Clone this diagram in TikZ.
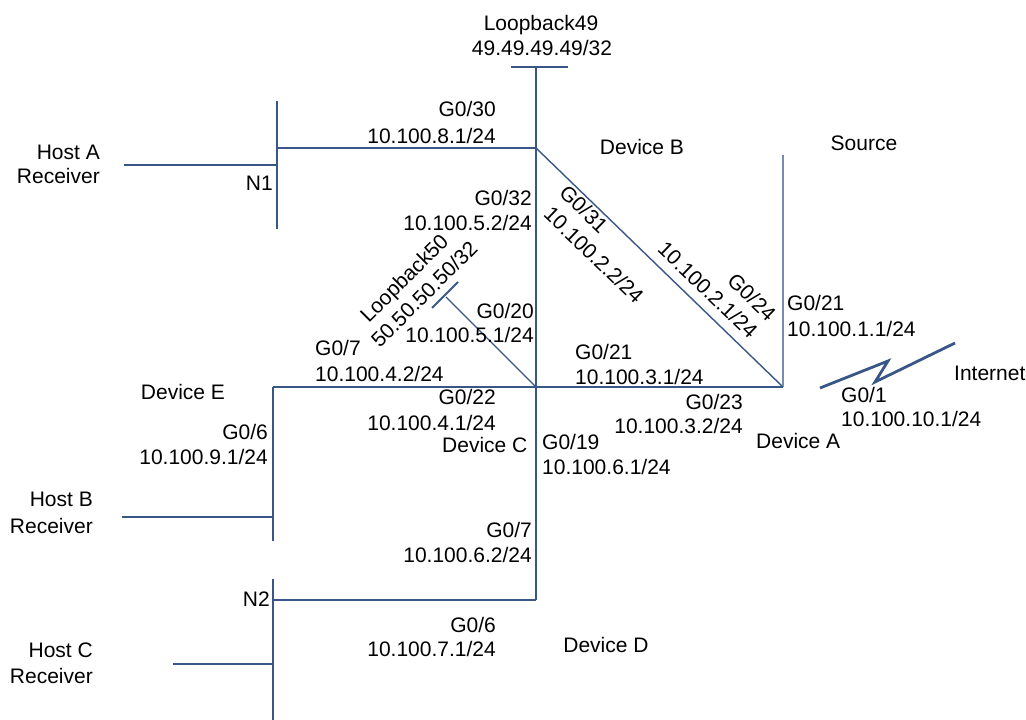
\documentclass[tikz,border=0pt]{standalone}
\usepackage{fontspec}
\setmainfont{Liberation Sans}
\definecolor{ln}{RGB}{56,87,135}
\definecolor{lnlight}{RGB}{120,140,175}
\begin{document}
\begin{tikzpicture}[x=1pt,y=-1pt,
  every node/.style={inner sep=0pt, font=\fontsize{21}{26}\selectfont, text depth=0pt, text height=15pt},
  link/.style={draw=ln, line width=1.4pt},
  midlink/.style={draw=ln, line width=2pt},
  heavy/.style={draw=ln, line width=2.8pt}]
\useasboundingbox (0,0) rectangle (1026,720);
% junction coordinates
\coordinate (lb49a) at (511,67);
\coordinate (lb49b) at (568,67);
\coordinate (Btop) at (536,67);
\coordinate (B) at (536,148);
\coordinate (C) at (536,387);
\coordinate (D) at (536,600);
\coordinate (A) at (783,387);
\coordinate (Srctop) at (783,155);
\coordinate (N1top) at (277,101);
\coordinate (N1bot) at (277,229);
\coordinate (N1j) at (277,148);
\coordinate (N1h) at (277,165);
\coordinate (HA) at (124,165);
\coordinate (E) at (273,387);
\coordinate (Ebot) at (273,541);
\coordinate (Eh) at (273,517);
\coordinate (HB) at (122,517);
\coordinate (N2top) at (273,579);
\coordinate (N2bot) at (273,720);
\coordinate (N2j) at (273,600);
\coordinate (N2h) at (273,664);
\coordinate (HC) at (173,664);
\coordinate (lb50a) at (432,308);
\coordinate (lb50b) at (458,282);
\coordinate (lb50m) at (446,297);
\coordinate (z1) at (820,388);
\coordinate (z2) at (888,361);
\coordinate (z3) at (875,382);
\coordinate (z4) at (955,343);
% lines
\draw[heavy] (lb49a) -- (lb49b);
\draw[link] (Btop) -- (D);
\draw[midlink] (N1j) -- (B);
\draw[link] (N1top) -- (N1bot);
\draw[heavy] (HA) -- (N1h);
\draw[link] (B) -- (A);
\draw[draw=lnlight, line width=1.4pt] (Srctop) -- (A);
\draw[midlink] (E) -- (A);
\draw[link] (E) -- (Ebot);
\draw[heavy] (HB) -- (Eh);
\draw[link] (N2top) -- (N2bot);
\draw[midlink] (N2j) -- (D);
\draw[heavy] (HC) -- (N2h);
\draw[midlink] (lb50a) -- (lb50b);
\draw[link] (lb50m) -- (C);
\draw[heavy, line join=miter] (z1) -- (z2) -- (z3) -- (z4);
% labels
\node (t1) at (541,23) {Loopback49};
\node (t2) at (542,48) {49.49.49.49/32};
\node[anchor=east] (t3) at (496,109) {G0/30};
\node[anchor=east] (t4) at (496,136) {10.100.8.1/24};
\node (t5) at (642,147) {Device B};
\node (t6) at (864,143) {Source};
\node[anchor=east] (t7) at (100,152) {Host A};
\node[anchor=east] (t8) at (100,176) {Receiver};
\node[anchor=east] (t9) at (273,183) {N1};
\node[anchor=east] (t10) at (532,198) {G0/32};
\node[anchor=east] (t11) at (532,223) {10.100.5.2/24};
\node[rotate=-44] (t12) at (584,209) {G0/31};
\node[rotate=-44] (t13) at (594,255) {10.100.2.2/24};
\node[rotate=-44] (t14) at (708,290) {10.100.2.1/24};
\node[rotate=-44] (t15) at (752,297) {G0/24};
\node[anchor=west] (t16) at (787,303) {G0/21};
\node[anchor=west] (t17) at (787,329) {10.100.1.1/24};
\node[rotate=45] (t18) at (404,278) {Loopback50};
\node[rotate=45] (t19) at (424,294) {50.50.50.50/32};
\node[anchor=east] (t20) at (534,311) {G0/20};
\node[anchor=east] (t21) at (534,335) {10.100.5.1/24};
\node[anchor=west] (t22) at (315,348) {G0/7};
\node[anchor=west] (t23) at (315,374) {10.100.4.2/24};
\node[anchor=west] (t24) at (575,352) {G0/21};
\node[anchor=west] (t25) at (575,377) {10.100.3.1/24};
\node (t26) at (183,392) {Device E};
\node[anchor=east] (t27) at (496,397) {G0/22};
\node[anchor=east] (t28) at (496,423) {10.100.4.1/24};
\node[anchor=east] (t29) at (743,402) {G0/23};
\node[anchor=east] (t30) at (743,426) {10.100.3.2/24};
\node[anchor=west] (t31) at (954,373) {Internet};
\node[anchor=west] (t32) at (841,395) {G0/1};
\node[anchor=west] (t33) at (841,419) {10.100.10.1/24};
\node[anchor=east] (t34) at (268,432) {G0/6};
\node[anchor=east] (t35) at (268,457) {10.100.9.1/24};
\node[anchor=west] (t36) at (442,445) {Device C};
\node[anchor=west] (t37) at (756,441) {Device A};
\node[anchor=west] (t38) at (542,442) {G0/19};
\node[anchor=west] (t39) at (542,467) {10.100.6.1/24};
\node[anchor=east] (t40) at (93,499) {Host B};
\node[anchor=east] (t41) at (93,526) {Receiver};
\node[anchor=east] (t42) at (532,530) {G0/7};
\node[anchor=east] (t43) at (532,555) {10.100.6.2/24};
\node[anchor=east] (t44) at (270,599) {N2};
\node[anchor=east] (t45) at (496,625) {G0/6};
\node[anchor=east] (t46) at (496,649) {10.100.7.1/24};
\node (t47) at (606,645) {Device D};
\node[anchor=east] (t48) at (93,650) {Host C};
\node[anchor=east] (t49) at (93,676) {Receiver};
\end{tikzpicture}
\end{document}
